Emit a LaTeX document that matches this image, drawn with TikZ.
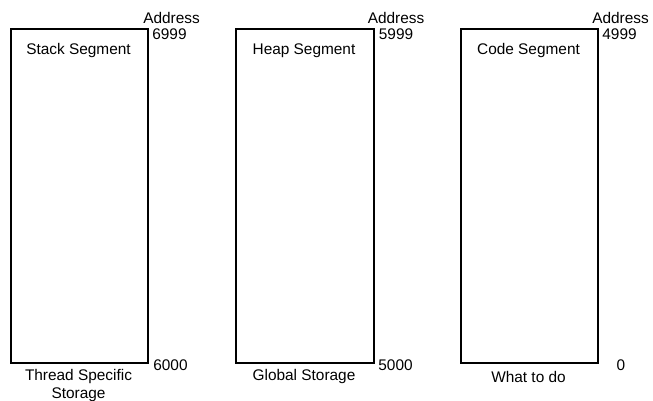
\documentclass[tikz,border=0pt]{standalone}
\usepackage{fontspec}
\setmainfont{Liberation Sans}
\begin{document}
\begin{tikzpicture}[x=1pt,y=-1pt,
  segbox/.style={draw=black,line width=2.2pt,minimum width=137pt,minimum height=334pt,inner sep=0pt,anchor=north west},
  lbl/.style={font=\fontsize{15.4}{18}\selectfont,inner sep=0pt,align=center,text=black}]
\useasboundingbox (0,0) rectangle (653,400);
\node[segbox] (s1) at (10,28) {};
\node[segbox,minimum width=138pt] (s2) at (235,28) {};
\node[segbox] (s3) at (460,28) {};
% titles
\node[lbl] (t1) at (78.5,50.5) {Stack Segment};
\node[lbl] (t2) at (304,50.5) {Heap Segment};
\node[lbl] (t3) at (528.5,50.5) {Code Segment};
% address labels
\node[lbl] (a1) at (171.5,18) {Address};
\node[lbl] (a2) at (396,18) {Address};
\node[lbl] (a3) at (620.5,18) {Address};
\node[lbl] (h1) at (169.5,34) {6999};
\node[lbl] (h2) at (396,34) {5999};
\node[lbl] (h3) at (619.5,34) {4999};
\node[lbl] (l1) at (170.5,365) {6000};
\node[lbl] (l2) at (395.5,365) {5000};
\node[lbl] (l3) at (621,365) {0};
% bottom labels
\node[lbl] (b1) at (78.5,385.5) {Thread Specific\\Storage};
\node[lbl] (b2) at (304,376.5) {Global Storage};
\node[lbl] (b3) at (528.5,376.5) {What to do};
\end{tikzpicture}
\end{document}
